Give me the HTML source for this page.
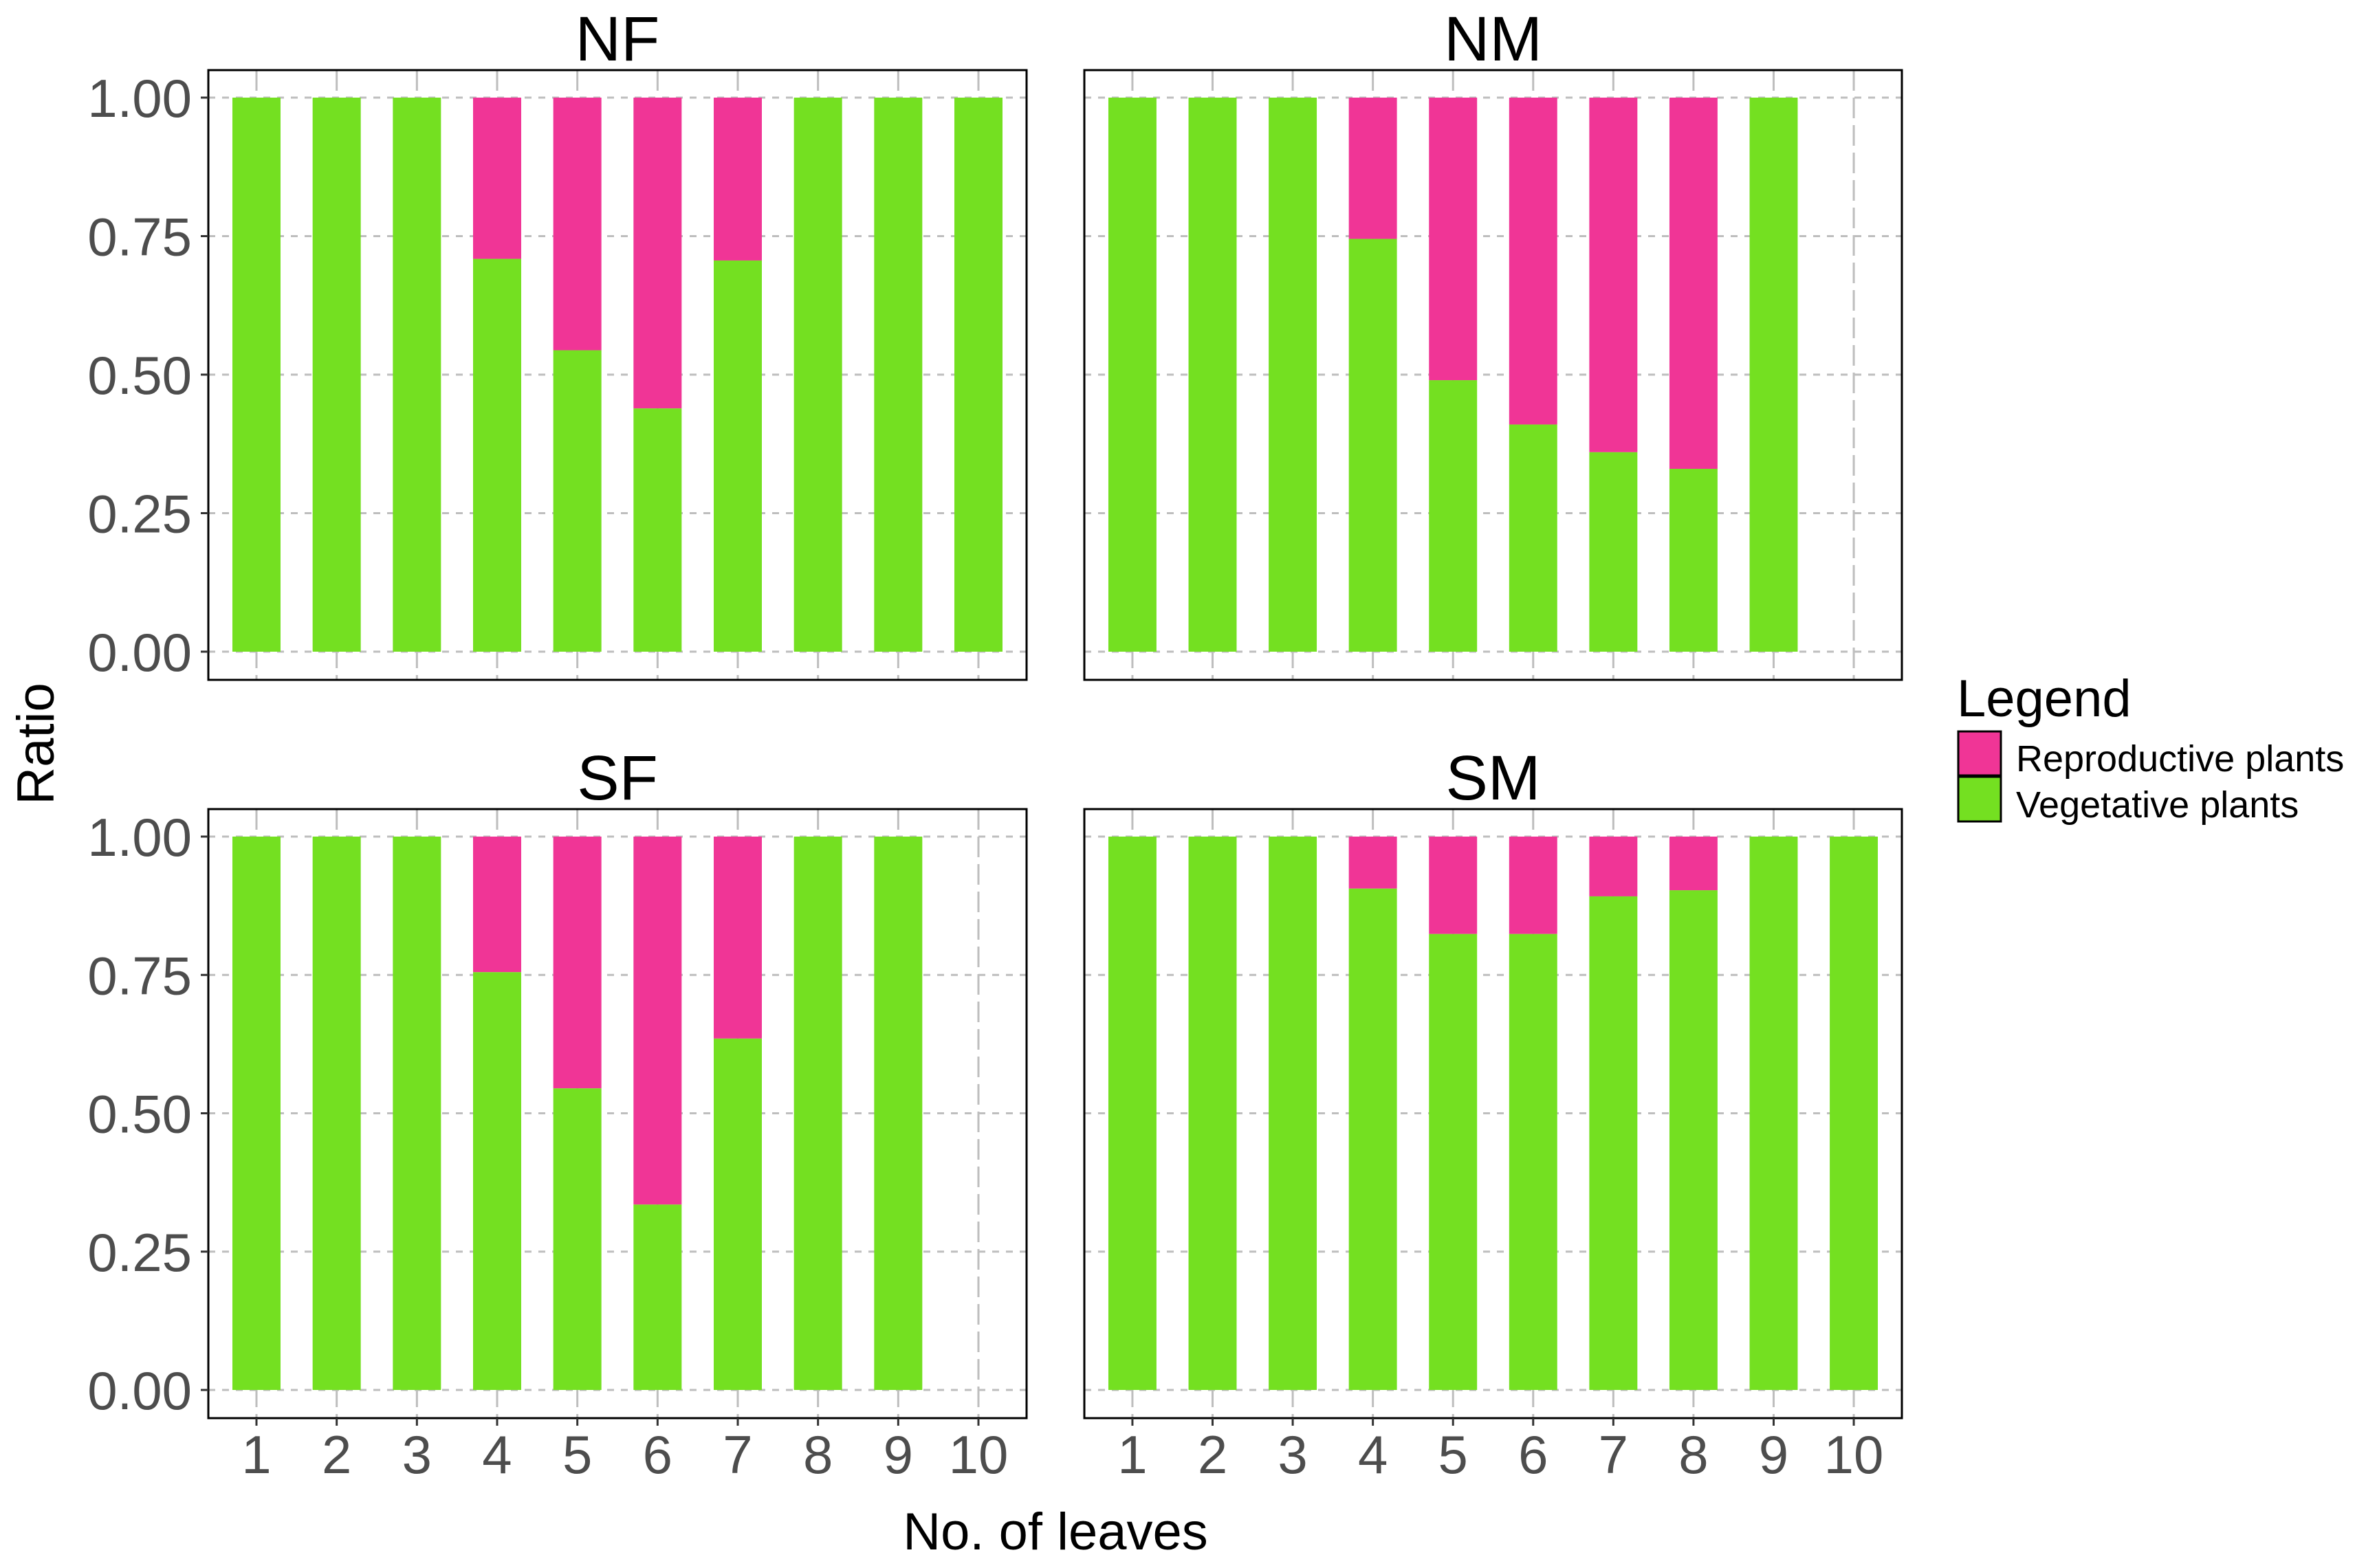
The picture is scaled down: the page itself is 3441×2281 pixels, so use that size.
<!DOCTYPE html>
<html><head><meta charset="utf-8"><style>
html,body{margin:0;padding:0;background:#fff;}
svg{display:block;font-family:"Liberation Sans",Arial,sans-serif;}
</style></head><body>
<svg id="chart" width="3441" height="2281" viewBox="0 0 3441 2281" xmlns="http://www.w3.org/2000/svg">
<rect width="3441" height="2281" fill="#fff"/>
<g id="panels"></g>
<text x="1535" y="2254" font-size="76" text-anchor="middle" fill="#000">No. of leaves</text>
<text transform="translate(78,1082) rotate(-90)" font-size="76" text-anchor="middle" fill="#000">Ratio</text>
<g>
<text x="2846" y="1042" font-size="76" fill="#000">Legend</text>
<rect x="2848" y="1064" width="62" height="64" fill="#f03596" stroke="#000" stroke-width="3"/>
<rect x="2848" y="1130" width="62" height="65" fill="#74e021" stroke="#000" stroke-width="3"/>
<text x="2932" y="1122" font-size="54" fill="#000">Reproductive plants</text>
<text x="2932" y="1189" font-size="54" fill="#000">Vegetative plants</text>
</g>
</svg>
<script>
const categories = [1,2,3,4,5,6,7,8,9,10];
const panelNames = ["NF","NM","SF","SM"];
// vegetative ratio per category (null = no bar)
const vegNF = [1,1,1,0.709,0.544,0.439,0.706,1,1,1];
const vegNM = [1,1,1,0.745,0.49,0.41,0.36,0.33,1,null];
const vegSF = [1,1,1,0.755,0.545,0.335,0.635,1,1,null];
const vegSM = [1,1,1,0.906,0.824,0.824,0.892,0.903,1,1];
const yTicks = [0,0.25,0.5,0.75,1];
const yTickLabels = ["0.00","0.25","0.50","0.75","1.00"];

const NS="http://www.w3.org/2000/svg";
const root=document.getElementById('panels');
const veg=[vegNF,vegNM,vegSF,vegSM];
const layout=[{x0:303,x1:1493,y0:102,y1:989},{x0:1577,x1:2766,y0:102,y1:989},{x0:303,x1:1493,y0:1177,y1:2063},{x0:1577,x1:2766,y0:1177,y1:2063}];
function mk(tag,attrs,parent){const e=document.createElementNS(NS,tag);for(const k in attrs)e.setAttribute(k,attrs[k]);parent.appendChild(e);return e;}
layout.forEach((L,p)=>{
  const g=mk('g',{},root);
  
  
  const unit=(L.x1-L.x0)/10.2;
  const xs=c=>L.x0+(c-0.4)*unit;
  const yTop=L.y0+40, yBot=L.y1-41;
  const ys=v=>yBot-(yBot-yTop)*v;
  // grid
  yTicks.forEach(t=>{const l=mk('line',{x1:L.x0,x2:L.x1,y1:ys(t),y2:ys(t),stroke:'#bebebe','stroke-width':3,'stroke-dasharray':'10 10'},g);
    
    });
  categories.forEach(c=>{const l=mk('line',{x1:xs(c),x2:xs(c),y1:L.y0,y2:L.y1,stroke:'#bebebe','stroke-width':3,'stroke-dasharray':'30 10'},g);
    
    });
  // bars
  const bw=unit*0.6;
  categories.forEach((c,i)=>{
    const v=veg[p][i]; if(v===null||v===undefined) return;
    const r1=mk('rect',{x:xs(c)-bw/2,y:ys(1),width:bw,height:ys(v)-ys(1),fill:'#f03596'},g);
    
    
    const r2=mk('rect',{x:xs(c)-bw/2,y:ys(v),width:bw,height:ys(0)-ys(v),fill:'#74e021'},g);
    
    
  });
  const b=mk('rect',{x:L.x0,y:L.y0,width:L.x1-L.x0,height:L.y1-L.y0,fill:'none',stroke:'#000','stroke-width':3},g);
  
  
  const t=mk('text',{x:(L.x0+L.x1)/2,y:L.y0-14,'font-size':92,'text-anchor':'middle',fill:'#000'},g);
  t.textContent=panelNames[p];
  
  
  if(p%2===0){
    yTicks.forEach((tv,i)=>{
      mk('line',{x1:L.x0-11,x2:L.x0,y1:ys(tv),y2:ys(tv),stroke:'#333','stroke-width':3},g);
      const tl=mk('text',{x:L.x0-24,y:ys(tv)+28,'font-size':78,'text-anchor':'end',fill:'#4d4d4d'},g);
      tl.textContent=yTickLabels[i];
      
      
    });
  }
  if(p>=2){
    categories.forEach(c=>{
      mk('line',{x1:xs(c),x2:xs(c),y1:L.y1,y2:L.y1+11,stroke:'#333','stroke-width':3},g);
      const tl=mk('text',{x:xs(c),y:2143,'font-size':78,'text-anchor':'middle',fill:'#4d4d4d'},g);
      tl.textContent=String(c);
      
      
    });
  }
});
</script>
</body></html>
